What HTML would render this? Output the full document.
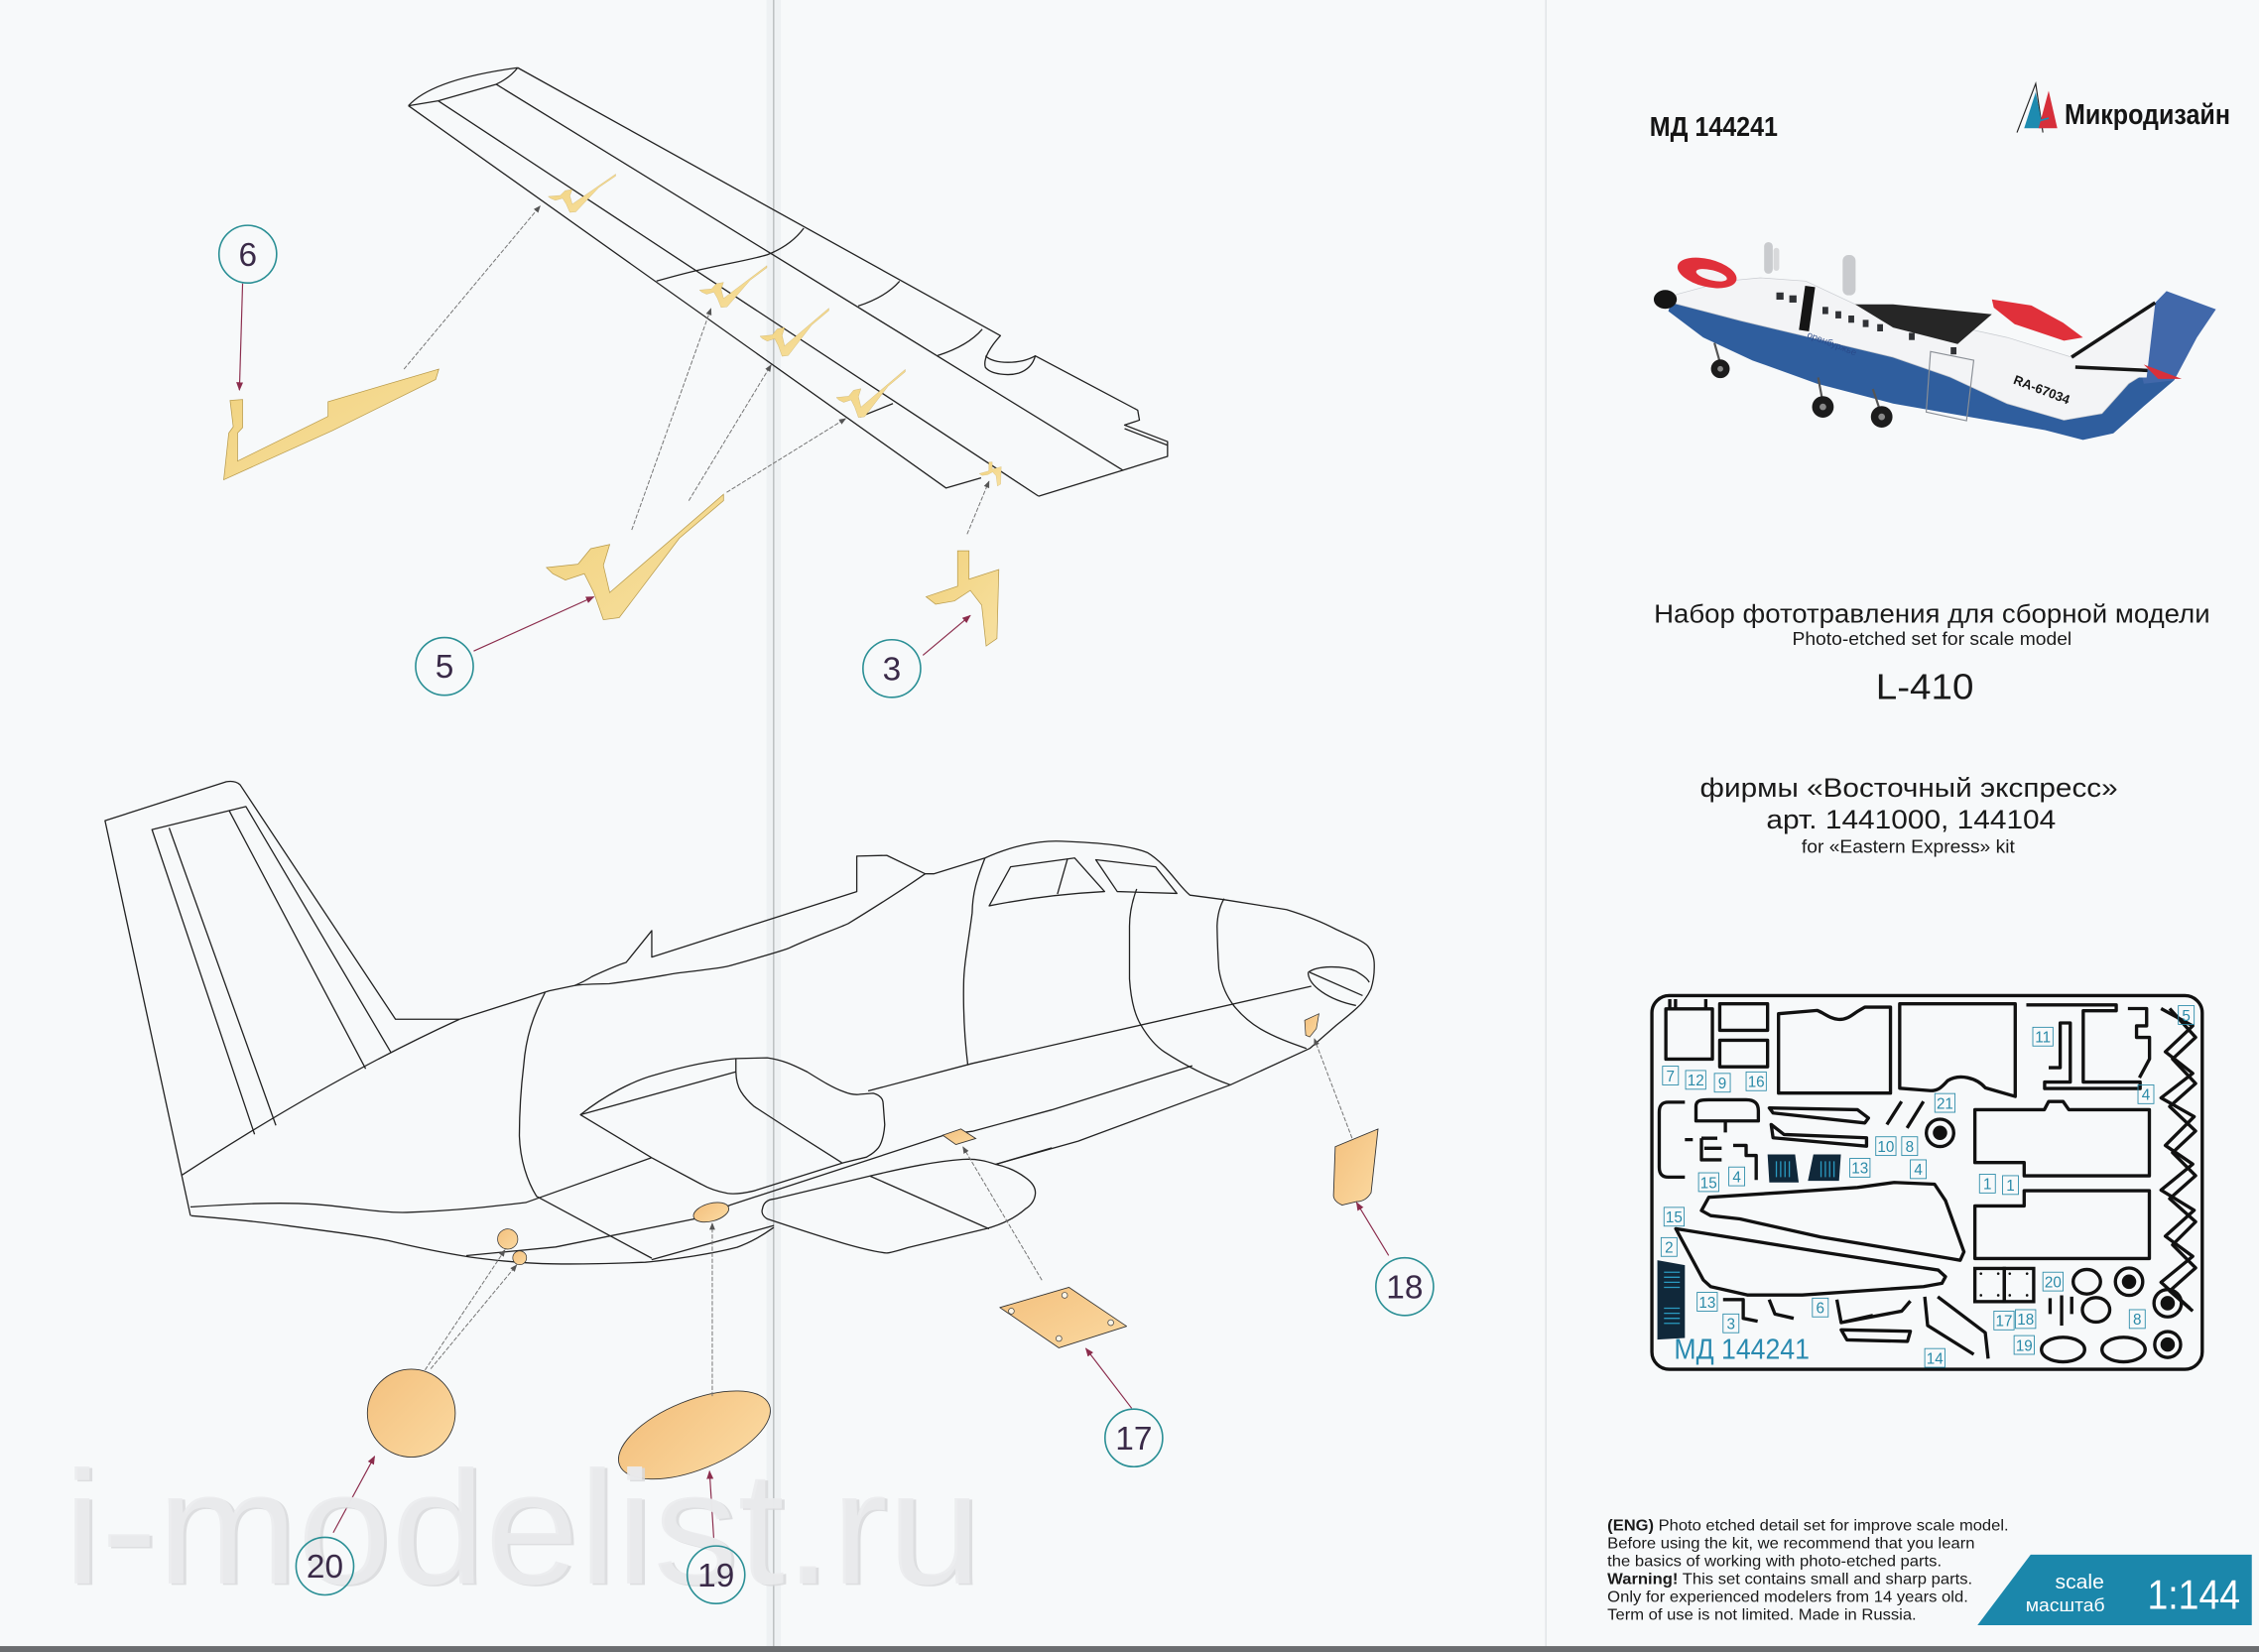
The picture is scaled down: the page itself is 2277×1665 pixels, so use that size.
<!DOCTYPE html>
<html><head><meta charset="utf-8"><style>
html,body{margin:0;padding:0;background:#f7f9fa;}
svg{display:block;}
text{font-family:"Liberation Sans",sans-serif;}
</style></head><body>
<svg width="2277" height="1665" viewBox="0 0 1568 1146.6" preserveAspectRatio="none" xmlns="http://www.w3.org/2000/svg">
<defs>
<marker id="ar" viewBox="0 0 10 10" refX="9" refY="5" markerWidth="6" markerHeight="6" orient="auto" markerUnits="userSpaceOnUse"><path d="M0,1 L10,5 L0,9 z" fill="#8b2c4c"/></marker>
<marker id="ag" viewBox="0 0 10 10" refX="9" refY="5" markerWidth="5" markerHeight="5" orient="auto" markerUnits="userSpaceOnUse"><path d="M0,1 L10,5 L0,9 z" fill="#555"/></marker>
<linearGradient id="gold" x1="0" y1="0" x2="1" y2="1"><stop offset="0" stop-color="#f1d27e"/><stop offset="1" stop-color="#f7e0a0"/></linearGradient>
<linearGradient id="org" x1="0" y1="0" x2="1" y2="1"><stop offset="0" stop-color="#f3c07e"/><stop offset="1" stop-color="#fbd9a0"/></linearGradient>
<symbol id="v5" viewBox="378 342 126 90" preserveAspectRatio="none"><path d="M379.3,393.9 L401.2,391.6 L410,380.8 L423.2,377.9 L418.8,392.4 L423.2,411.3 L502.2,343.1 L502.2,347.5 L471.5,373.6 L429.8,428.7 L418.8,430.1 L412.2,411.3 L405.6,398.2 L392.4,402.6 L383.7,398.2 Z" fill="url(#gold)" stroke="#b89a4a" stroke-width="0.5"/></symbol>
<symbol id="p3" viewBox="642 381 53 69" preserveAspectRatio="none"><path d="M664.7,382.3 L672.6,382.3 L672.6,402 L693.3,395.3 L692,443.2 L684.5,448.4 L681.4,420 L673.5,409.8 L662.5,417.1 L649.4,419.4 L642.8,414.2 L664.7,406.9 Z" fill="url(#gold)" stroke="#b89a4a" stroke-width="0.5"/></symbol>
</defs>

<rect x="0" y="0" width="1568" height="1147" fill="#f7f9fa"/>
<!-- fold lines -->
<rect x="532" y="0" width="10" height="1147" fill="#eef1f3"/>
<line x1="537" y1="0" x2="537" y2="1147" stroke="#b5b8ba" stroke-width="0.9"/>
<line x1="1073" y1="0" x2="1073" y2="1147" stroke="#dcdfe1" stroke-width="0.8"/>
<rect x="0" y="1142.5" width="1568" height="4.2" fill="#6b6d70"/>

<!-- ================= WING ================= -->
<g fill="none" stroke="#222" stroke-width="0.9" stroke-linejoin="round">
<path d="M283.5,73.4 Q300,55 359.3,47"/>
<path d="M283.5,73.4 L304.2,70 L344.4,58.5 Q354,54 359.3,47"/>
<path d="M359.3,47 L694.4,233 C688,240 682,249 684,255 C688,260 700,261 707,259 C713,257 717,253 718.6,247 L789.7,284.7 L790.9,291.6 L780.6,295 L810.4,306.5 L810.4,316.8 L720.9,344.4"/>
<path d="M780.6,297.5 L810.4,309"/>
<path d="M684,247 C690,253 708,253 718.6,247"/>
<path d="M344.4,58.5 L779.4,326.4"/>
<path d="M304.2,70 L720.9,344.4"/>
<path d="M283.5,73.4 L656.6,338.7 L681,331.7"/>
<path d="M455.7,195.1 C470,191 482,188 491.3,186 C510,182 522,180 532.6,176.8 C545,172 553,165 557.9,158.4"/>
<path d="M595.7,212.4 Q615,206 624.4,195.2"/>
<path d="M650.8,246.8 Q672,240 681.8,228.5"/>
<path d="M596.9,289.3 L619.8,280.1"/>
</g>
<!-- small wing parts -->
<use href="#v5" x="380" y="120.5" width="48" height="27.5"/>
<use href="#v5" x="485" y="184" width="48" height="30"/>
<use href="#v5" x="527" y="213.5" width="49" height="34.5"/>
<use href="#v5" x="580" y="256" width="49" height="34.5"/>
<use href="#p3" x="679.5" y="320.3" width="16" height="17.5"/>
<!-- big wing parts -->
<path d="M155.3,333 L158.8,300.5 L161.9,296.2 L159.7,277.9 L168.4,277.3 L168.4,296.8 L164.9,300.5 L164.9,320 L227.7,289 L227.7,278.8 L304.6,256.2 L302.4,263.4 L230.8,298.8 Z" fill="url(#gold)" stroke="#b89a4a" stroke-width="0.5"/>
<use href="#v5" x="378" y="342" width="126" height="90"/>
<use href="#p3" x="642" y="381" width="53" height="69"/>
<!-- gray leaders wing -->
<g stroke="#777" stroke-width="0.7" stroke-dasharray="3 1.2" fill="none" marker-end="url(#ag)">
<line x1="280.4" y1="256.2" x2="374.9" y2="143"/>
<line x1="438.5" y1="367.8" x2="493.5" y2="214.1"/>
<line x1="478.1" y1="347.5" x2="535.2" y2="253.3"/>
<line x1="504.4" y1="341.7" x2="587" y2="290.5"/>
<line x1="671.3" y1="370.7" x2="686.5" y2="334"/>
</g>
<!-- red arrows wing -->
<g stroke="#8b2c4c" stroke-width="0.8" fill="none" marker-end="url(#ar)">
<line x1="168.4" y1="196.8" x2="166.2" y2="270.7"/>
<line x1="328.8" y1="451.9" x2="412.2" y2="414.2"/>
<line x1="640.6" y1="454.8" x2="673.5" y2="427.2"/>
</g>

<!-- ================= FUSELAGE ================= -->
<g fill="none" stroke="#222" stroke-width="0.9" stroke-linejoin="round">
<path d="M132.2,843.8 L72.9,569.6 L157.1,542.6 Q163,541.5 166.6,544.6 L274.5,707.4 L319,707.4"/>
<path d="M176.7,787.3 L105.5,575.8 L170.7,559.8 L271.5,730.7"/>
<path d="M117.4,574.6 L191.5,781.1"/>
<path d="M158.9,562.3 L253.8,741.8"/>
<path d="M319,707.4 Q230,748 126.3,815.6"/>
<path d="M319,707.4 L381.2,687.7 L399,684 Q406,681 410.9,677.8 Q428,670 434.6,668 L452.4,645.9 L452.4,664.3 L594.7,618.8 L594.7,594.2 L615.5,593.7 L642.2,606.5 L648.1,606.5 L683.7,595.5"/>
<path d="M399,684 Q405,683 422.8,682.8 C445,680 460,677 470.2,675.4 C490,673 500,672 505.8,670.5 C525,665 540,661 547.3,658.2 C565,650 580,645 588.8,641 C610,628 630,615 642.2,606.5"/>
<path d="M683.7,595.5 C700,588 720,583 737.1,583.9 C765,585 785,587 796.4,591.8 C810,600 818,615 826,621.3 L849.4,624.4 L893,631.3 C905,635 918,640 927.5,645.1 C938,650 946,653 949.3,656.5 C953,661 954,666 953.9,670.3 C954,676 953,682 951.6,686.4 C949,692 945,697 941.2,700.2 C936,705 932,708 927.5,711.6 L909.1,727.7 L854,753 L748.4,792 L691.1,808.1"/>
<path d="M686.6,628.7 L701.5,601.6 L745.9,595.5 L766.7,618.8 Q725,621 686.6,628.7 Z"/>
<path d="M741,596 L734,620.5"/>
<path d="M760.6,596.7 L802.1,601.6 L816.9,620.1 L775.5,618.8 Z"/>
<path d="M908,675 C914,670 932,670 941,674 C946,677 949,679 950.4,681.8"/>
<path d="M908,675 C908,684 922,694 941.2,697.9"/>
<path d="M909.1,674.9 L945.8,691"/>
<path d="M683.7,595.5 C678,610 675,620 674.8,633.6 C672,655 669,670 668.9,682.8 C668.5,705 670,725 671.8,739.3"/>
<path d="M789,617 C786,625 784,633 784,642.8 L784,679.5 C785,695 788,705 792,711.6 C797,720 802,726 808.1,730 C825,741 840,748 854,753"/>
<path d="M849.7,623.7 C846,630 845,636 844.8,642.8 C845,655 845.5,665 846,672.6 C848,685 852,692 856.3,697.9 C862,705 868,710 874.7,714 C885,720 896,724 906.8,727.7"/>
<path d="M378.3,688.9 C370,705 365,720 363.5,739.3 C361,760 360.5,775 360.5,788.5 C361,805 366,820 372.4,830.3 L452.4,873.3"/>
<path d="M602.6,757.2 L674.9,738.1 L910.2,684.5"/>
<path d="M323.7,871.5 L385.7,865.5 L482.1,846 L507.4,836.2 L656.6,787.5 L675,785.2 L730.1,770.3 L827.6,739.7"/>
<path d="M132.2,837.7 C160,836 190,834 218.6,835.8 C245,838 265,842 282.3,841.5 C320,840 345,837 365.1,834.6 L452.3,803.5"/>
<path d="M132.6,843.8 C160,846 180,848 199.5,850.7 C230,855 250,857 269.6,861.1 C290,866 310,870 326.9,872.6 C345,875 365,877 384.2,877.2 C405,877.5 425,877 447.9,876.1 C470,874 495,870 511.6,865.7 C522,862 530,857 537.1,851.9"/>
<path d="M452.3,874.3 L537.2,850.6"/>
<path d="M402.9,773.7 C420,760 440,750 454.6,746.1 C475,740 495,736 510.8,734.7 L532.6,734.2 C545,736 552,740 560.2,743.9 C570,750 578,755 585.4,757.6 C590,759.5 594,760 597,759.5 L606.1,758.8 C611,760 613,763 613,766 L614.1,780.6 C613.5,790 611,795 609.6,796.7 C606,801 603,802 601.5,803.1 L585.4,807 L523.5,826.5 C515,828.5 510,829 505.1,828.3 C498,827 492,825 486.7,821.9 L452.3,803.5 Z"/>
<path d="M402.9,773.7 L510.8,743.9"/>
<path d="M510.8,734.7 L510.8,743.9 C511,750 512,754 514.3,757.6 C517,762 520,765 523.5,768 L546.4,782.9 L584.3,807"/>
<path d="M529.2,839.1 C530,834 534,832.5 537.2,832.2 L603.8,816.2 C630,810 650,806 668.1,804.7 C678,804 685,806 691.1,808.1 C700,810 706,813 711.7,817.3 C717,821 719,825 718.6,828.8 C718,834 715,837 711.7,839.1 C705,845 695,850 684.2,852.9 L630,866 C622,868.5 618,869.7 615.3,869.7 C600,868 575,860 546.4,850.6 L532.6,846 C529,844 528.5,841 529.2,839.1 Z"/>
<path d="M603.8,816.2 L686.5,852.9"/>
<path d="M691.1,808.1 L730.1,796.7"/>
</g>
<ellipse cx="493.6" cy="841.4" rx="12.6" ry="6.2" transform="rotate(-15 493.6 841.4)" fill="url(#org)" stroke="#333" stroke-width="0.6"/>
<path d="M654.3,787.9 L667,783.6 L677.3,790.2 L663.5,794.4 Z" fill="url(#org)" stroke="#333" stroke-width="0.6"/>
<path d="M905.6,708.2 L915.5,703.6 L913.7,713.9 L909.1,719.7 L906.3,718.5 Z" fill="url(#org)" stroke="#333" stroke-width="0.5"/>
<circle cx="352.4" cy="860" r="7" fill="url(#org)" stroke="#333" stroke-width="0.5"/>
<circle cx="360.7" cy="873" r="4.8" fill="url(#org)" stroke="#333" stroke-width="0.5"/>
<circle cx="285.5" cy="980.8" r="30.5" fill="url(#org)" stroke="#333" stroke-width="0.6"/>
<ellipse cx="482" cy="996" rx="56" ry="24" transform="rotate(-22 482 996)" fill="url(#org)" stroke="#333" stroke-width="0.6"/>
<path d="M694,907.5 L742,893.5 L782,920.5 L735,935.5 Z" fill="url(#org)" stroke="#333" stroke-width="0.6" stroke-linejoin="round"/>
<g fill="#fdf5e6" stroke="#444" stroke-width="0.5"><circle cx="702" cy="910" r="2"/><circle cx="739" cy="899" r="2"/><circle cx="771" cy="918" r="2"/><circle cx="735" cy="929" r="2"/></g>
<path d="M926.8,795.9 L956.5,783.6 L951.7,827.8 Q948,834 941.6,834 L931.6,836.4 Q926,834 925.6,830 Z" fill="url(#org)" stroke="#333" stroke-width="0.6"/>
<g stroke="#777" stroke-width="0.7" stroke-dasharray="3 1.2" fill="none" marker-end="url(#ag)">
<line x1="295" y1="950.9" x2="350.5" y2="867.5"/>
<line x1="299" y1="950" x2="358.6" y2="878"/>
<line x1="494.4" y1="969" x2="494.4" y2="849"/>
<line x1="723.2" y1="888.5" x2="668.4" y2="796"/>
<line x1="938.5" y1="790" x2="912.3" y2="721"/>
</g>
<g stroke="#8b2c4c" stroke-width="0.8" fill="none" marker-end="url(#ar)">
<line x1="231.3" y1="1063.8" x2="260" y2="1010.8"/>
<line x1="495.7" y1="1071.8" x2="492.5" y2="1021.1"/>
<line x1="785.5" y1="977.4" x2="753.7" y2="935.9"/>
<line x1="963.9" y1="871.4" x2="941.6" y2="834.6"/>
</g>

<!-- watermark -->
<text x="46" y="1100" font-size="112" textLength="637" lengthAdjust="spacingAndGlyphs" fill="#d9dadc" opacity="0.85" font-family="Liberation Sans Narrow, Liberation Sans, sans-serif">i-modelist.ru</text>
<text x="44" y="1099" font-size="112" textLength="637" lengthAdjust="spacingAndGlyphs" fill="#ebecee" opacity="0.9" font-family="Liberation Sans Narrow, Liberation Sans, sans-serif">i-modelist.ru</text>

<g fill="none" stroke="#2a8f95" stroke-width="1.1">
<circle cx="172" cy="176.4" r="20"/><circle cx="308.5" cy="462.5" r="20"/><circle cx="619" cy="464" r="20"/>
<circle cx="975" cy="893" r="20"/><circle cx="787" cy="998" r="20"/><circle cx="225.5" cy="1087" r="20"/><circle cx="497" cy="1093" r="20"/>
</g>
<g font-size="23" fill="#3a2a48" text-anchor="middle">
<text x="172" y="184.5">6</text><text x="308.5" y="470.5">5</text><text x="619" y="472">3</text>
<text x="975" y="901">18</text><text x="787" y="1006">17</text><text x="225.5" y="1095">20</text><text x="497" y="1101">19</text>
</g>

<!-- ================= RIGHT PANEL ================= -->
<text x="1145" y="94.5" font-size="19" font-weight="bold" textLength="89" lengthAdjust="spacingAndGlyphs" fill="#151515" font-family="Liberation Serif, serif">МД 144241</text>
<path d="M1400,92 L1413,58 L1418,92" fill="none" stroke="#222" stroke-width="0.8"/>
<path d="M1405,89 L1413,64 L1418,89 Z" fill="#1d8bb0"/>
<path d="M1415,89 L1422,63 L1428,89 Z" fill="#d62f3a"/>
<path d="M1408,86 L1422,82" stroke="#1d8bb0" stroke-width="1.2"/>
<text x="1433" y="86" font-size="20" font-weight="bold" textLength="115" lengthAdjust="spacingAndGlyphs" fill="#151515" font-family="Liberation Serif, serif">Микродизайн</text>

<g>
<rect x="1224.5" y="168" width="6" height="22" rx="3" fill="#c9cbce"/>
<rect x="1231" y="172" width="4" height="16" rx="2" fill="#d8d9db"/>
<rect x="1279" y="177" width="9" height="28" rx="4" fill="#c9cbce"/>
<path d="M1160,210 L1208.6,222.7 L1261.3,235.3 L1314,247.9 L1353.6,261.7 L1393.1,280.1 L1432.6,291.6 L1459,287 L1477.5,266.3 L1495.9,254.8 L1509,264 L1488,282 L1466.9,300.8 L1445.8,305.3 L1419.5,298.5 L1366.7,289.3 L1314,280.1 L1261.3,266.3 L1216.5,250.2 L1182.2,234.2 L1158,216 Z" fill="#2f5e9e"/>
<path d="M1163.8,204.3 L1198,195.1 L1221.8,192.8 L1253.4,195.1 L1287.7,211.2 L1340.4,222.7 L1393.1,234.2 L1437.9,247.9 L1485.4,254.8 L1495.9,254.8 L1477.5,266.3 L1459,287 L1432.6,291.6 L1393.1,280.1 L1353.6,261.7 L1314,247.9 L1261.3,235.3 L1208.6,222.7 L1160,210 Z" fill="#f3f4f6" stroke="#c8cbd0" stroke-width="0.5"/>
<path d="M1495.9,210.1 L1503.8,202 L1538.1,214.7 L1524.9,234.2 L1509.1,264 L1488,266.3 L1485.4,254.8 Z" fill="#4168aa"/>
<path d="M1440,248 L1496,210 L1490,262 L1462,262 Z" fill="#f3f4f6"/>
<line x1="1437.9" y1="247.9" x2="1495.9" y2="210.1" stroke="#151515" stroke-width="2.4"/>
<line x1="1440.5" y1="254.8" x2="1490.6" y2="257.1" stroke="#151515" stroke-width="2.4"/>
<path d="M1488,253 L1514.4,263 L1498,263 Z" fill="#d8303a"/>
<ellipse cx="1184.9" cy="189.4" rx="21" ry="9.6" transform="rotate(14 1184.9 189.4)" fill="#e0303a"/>
<ellipse cx="1188" cy="191" rx="11" ry="3.5" transform="rotate(14 1188 191)" fill="#f3f4f6"/>
<path d="M1287.7,211.2 L1314,211.2 L1382.6,218.1 L1358.8,238.8 L1314,227.3 Z" fill="#262626"/>
<path d="M1382.6,207.8 L1410,212 L1432,224 L1445.8,234.2 L1432.6,236.5 L1398.4,225 L1383.9,213.5 Z" fill="#e0303a"/>
<ellipse cx="1155.9" cy="207.8" rx="8" ry="6.5" fill="#151515"/>
<rect x="1250.8" y="198.6" width="7" height="31" fill="#151515" transform="rotate(8 1254 214)"/>
<g fill="#303236"><rect x="1233" y="203" width="5" height="5"/><rect x="1242" y="205" width="5" height="5"/><rect x="1265" y="213" width="4" height="5"/><rect x="1274" y="216" width="4" height="5"/><rect x="1283" y="219" width="4" height="5"/><rect x="1293" y="222" width="4" height="5"/><rect x="1303" y="225" width="4" height="5"/><rect x="1325" y="231" width="4" height="5"/><rect x="1354" y="241" width="4" height="5"/></g>
<path d="M1340,244 L1370,250 L1365,292 L1337,286 Z" fill="none" stroke="#8a8f96" stroke-width="0.8"/>
<g stroke="#555" stroke-width="1.5"><line x1="1190" y1="238" x2="1194" y2="252"/><line x1="1262" y1="262" x2="1265" y2="278"/><line x1="1300" y1="270" x2="1305" y2="285"/></g>
<g fill="#1c1c1c"><circle cx="1194.1" cy="256" r="6.5"/><circle cx="1265.3" cy="282.4" r="7.5"/><circle cx="1306.1" cy="289.3" r="7.5"/></g>
<g fill="#888"><circle cx="1194.1" cy="256" r="2"/><circle cx="1265.3" cy="282.4" r="2.3"/><circle cx="1306.1" cy="289.3" r="2.3"/></g>
<text x="1397" y="266" font-size="9" font-weight="bold" fill="#151515" transform="rotate(21 1397 266)">RA-67034</text>
<text x="1254" y="234" font-size="6.5" fill="#2a4a8a" transform="rotate(21 1254 234)">оренбуржье</text>
</g>

<g fill="#1a1a1a">
<text x="1148" y="432" font-size="18" textLength="386" lengthAdjust="spacingAndGlyphs">Набор фототравления для сборной модели</text>
<text x="1244" y="447.5" font-size="12.5" textLength="194" lengthAdjust="spacingAndGlyphs">Photo-etched set for scale model</text>
<text x="1302" y="485" font-size="25" textLength="68" lengthAdjust="spacingAndGlyphs">L-410</text>
<text x="1180" y="553" font-size="18.5" textLength="290" lengthAdjust="spacingAndGlyphs">фирмы «Восточный экспресс»</text>
<text x="1226" y="575" font-size="18.5" textLength="201" lengthAdjust="spacingAndGlyphs">арт. 1441000, 144104</text>
<text x="1250.5" y="592" font-size="12.5" textLength="148" lengthAdjust="spacingAndGlyphs">for «Eastern Express» kit</text>
</g>

<!-- ================= FRET ================= -->
<g fill="none" stroke="#111" stroke-width="2.3" stroke-linejoin="round">
<rect x="1146.6" y="691" width="382" height="259.4" rx="12"/>
<rect x="1156.3" y="700.2" width="32.3" height="34.9"/>
<path d="M1159,693.5 L1159,700 M1163,693.5 L1163,700 M1184,693.5 L1184,700"/>
<rect x="1193.7" y="696.7" width="33.2" height="18.4"/>
<rect x="1193.7" y="722" width="33.2" height="18.4"/>
<path d="M1234.5,703.6 L1261.3,701.3 C1266,703 1270,707 1276,707.5 C1283,708 1287,703 1290.5,701.3 L1294.4,699 L1312.2,699 L1312.2,758.7 L1234.5,758.7 Z"/>
<path d="M1318.6,696.7 L1398.8,696.7 L1398.8,761 L1378,755 C1372,748 1360,745 1352,750 C1348,754 1346,757 1340,757 L1318.6,755.3 Z"/>
<path d="M1406.5,697.5 L1468.9,697.5 L1468.9,701.5 L1446,701.5 L1446,751 L1485.5,751 L1485.5,755.5 L1419.2,755.5 L1419.2,751 L1437,751 L1437,710 L1430,710 L1430,741 L1422,741"/>
<path d="M1477,700 L1490,700 L1490,712 L1483,712 L1483,720 L1492,720 L1492,735 L1485,748"/>
<path d="M1500,700 L1522,712 L1503,730 L1522,745 L1500,762 L1523,775 L1503,795 L1522,808 L1500,826 L1523,840 L1503,858 L1522,872 L1500,890 L1520,908"/>
<path d="M1506,700 L1524,720 L1508,735 L1524,752 L1506,768 L1524,785 L1508,800 L1524,816 L1506,832 L1524,848 L1508,864 L1524,880 L1506,896 L1522,910"/>
<path d="M1169.5,765 L1158,765 C1153,765 1151.7,768 1151.7,772 L1151.7,810 C1151.7,815 1154,817 1158,817 L1169.5,817 M1169.5,791 L1175,791"/>
<path d="M1177.2,778 L1177.2,768 C1177.2,764 1180,763.3 1186,763.3 L1212,763.3 C1218,763.3 1220.5,766 1220.5,771 L1220.5,778 Z M1197.6,778 L1197.6,786"/>
<path d="M1228.1,769 L1289.3,770.2 L1296.9,776 L1294.4,779.4 L1230.7,772.5 Z"/>
<path d="M1229.4,780.5 L1238.3,787.4 L1295.6,789.7 L1295.6,795.5 L1230.7,789.7 Z"/>
<path d="M1309.7,780.5 L1319.9,764.5 M1323.7,782.9 L1335.1,764.5"/>
<circle cx="1346.6" cy="786.3" r="9.5"/>
<path d="M1181,790 L1192,790 M1181,790 L1181,805 L1195,805 M1183,797 L1195,797"/>
<path d="M1203,795 L1212,795 L1212,802 L1219,802 L1219,819"/>
<path d="M1370.8,770.2 L1419,770.2 L1422,764.5 L1432,764.5 L1436,770.2 L1491.9,770.2 L1491.9,816.1 L1405,816.1 L1405,806.9 L1370.8,806.9 Z"/>
<path d="M1370.8,837 L1405,837 L1405,826.4 L1491.9,826.4 L1491.9,873.5 L1370.8,873.5 Z"/>
<path d="M1181,840.2 L1186.1,831 L1238.3,827.6 L1289.3,824.2 L1314.8,820.7 L1342.8,821.9 L1350.4,833.3 L1363.2,868.9 L1360.6,874.7 L1340.2,871.2 L1263.8,858.6 L1207.7,846 L1187.4,843.7 Z"/>
<path d="M1163.2,852.8 L1263.8,868.9 L1345.3,881.5 L1350.4,886.1 L1347.9,890.7 L1335.1,893 L1251,898.8 L1212.8,898.8 L1187.4,893 L1182.3,888.4 Z"/>
<path d="M1275,902 L1278,918 L1320,910 L1326,903 M1278,918 L1300,913"/>
<path d="M1278,923 L1326,924 L1324,931 L1282,930 Z"/>
<path d="M1336,900 L1338,920 L1370,940 M1345,900 L1378,925 L1380,943"/>
<path d="M1196,902 L1210,902 L1210,915 L1220,917 M1228,902 L1232,912 L1245,915"/>
<path d="M1423,901 L1423,912 M1431,899 L1431,920 M1438,900 L1438,912"/>
<ellipse cx="1448.5" cy="889.6" rx="9.5" ry="8.5"/>
<ellipse cx="1454.9" cy="909.1" rx="9.5" ry="8.5"/>
<ellipse cx="1432" cy="936.7" rx="15" ry="8.5"/>
<ellipse cx="1474" cy="936.7" rx="15" ry="8.5"/>
<circle cx="1477.8" cy="889.6" r="9.5"/>
<circle cx="1504.6" cy="904.5" r="9.5"/>
<circle cx="1504.6" cy="933.2" r="9"/>
</g>
<g fill="#111"><circle cx="1346.6" cy="786.3" r="5"/><circle cx="1477.8" cy="889.6" r="5"/><circle cx="1504.6" cy="904.5" r="5"/><circle cx="1504.6" cy="933.2" r="5"/></g>
<rect x="1370.8" y="880.4" width="20.4" height="23" fill="none" stroke="#111" stroke-width="2.3"/>
<rect x="1391.2" y="880.4" width="20.4" height="23" fill="none" stroke="#111" stroke-width="2.3"/>
<g fill="#111"><circle cx="1375" cy="884" r="0.9"/><circle cx="1387" cy="884" r="0.9"/><circle cx="1375" cy="899" r="0.9"/><circle cx="1387" cy="899" r="0.9"/><circle cx="1395" cy="884" r="0.9"/><circle cx="1407" cy="884" r="0.9"/><circle cx="1395" cy="899" r="0.9"/><circle cx="1407" cy="899" r="0.9"/></g>
<path d="M1226.9,801.2 L1246,801.2 L1248.5,820.7 L1228.1,820.7 Z" fill="#10283a"/>
<path d="M1258.7,801.2 L1277.8,801.2 L1276.5,819.6 L1254.9,819.6 Z" fill="#10283a"/>
<g stroke="#2a9ac0" stroke-width="0.9"><path d="M1233,806 V817 M1236,806 V817 M1239,806 V817 M1242,806 V817 M1264,806 V817 M1267,806 V817 M1270,806 V817 M1273,806 V817"/></g>
<path d="M1150.4,874.7 L1169.5,878.1 L1169.5,928.6 L1150.4,929.8 Z" fill="#10283a"/>
<g stroke="#2a9ac0" stroke-width="0.9"><path d="M1155,883 H1166 M1155,886.5 H1166 M1155,890 H1166 M1155,893.5 H1166 M1155,908 H1166 M1155,911.5 H1166 M1155,915 H1166 M1155,918.5 H1166"/></g>
<text x="1162" y="943" font-size="20" textLength="94" lengthAdjust="spacingAndGlyphs" fill="#2a8ab0" font-family="Liberation Serif, serif">МД 144241</text>
<g fill="none" stroke="#2a8aa8" stroke-width="0.6">
<rect x="1154" y="740" width="11" height="13"/><rect x="1170" y="743" width="14" height="13"/><rect x="1190" y="745" width="11" height="13"/><rect x="1212" y="744" width="14" height="13"/>
<rect x="1411" y="713" width="14" height="13"/><rect x="1512" y="698" width="11" height="13"/><rect x="1484" y="753" width="11" height="13"/><rect x="1343" y="759" width="14" height="13"/>
<rect x="1302" y="789" width="14" height="13"/><rect x="1320" y="789" width="11" height="13"/><rect x="1284" y="804" width="14" height="13"/><rect x="1326" y="805" width="11" height="13"/>
<rect x="1374" y="815" width="11" height="13"/><rect x="1390" y="816" width="11" height="13"/><rect x="1179" y="814" width="14" height="13"/><rect x="1200" y="810" width="11" height="13"/>
<rect x="1155" y="838" width="14" height="13"/><rect x="1153" y="859" width="11" height="13"/><rect x="1178" y="897" width="14" height="13"/><rect x="1196" y="912" width="11" height="13"/>
<rect x="1258" y="901" width="11" height="13"/><rect x="1336" y="936" width="14" height="13"/><rect x="1384" y="910" width="14" height="13"/><rect x="1399" y="909" width="14" height="13"/>
<rect x="1418" y="883" width="14" height="13"/><rect x="1398" y="927" width="14" height="13"/><rect x="1478" y="909" width="11" height="13"/>
</g>
<g font-size="10.5" fill="#2a8aa8" text-anchor="middle">
<text x="1159.5" y="750.5">7</text><text x="1177" y="753.5">12</text><text x="1195.5" y="755.5">9</text><text x="1219" y="754.5">16</text>
<text x="1418" y="723.5">11</text><text x="1517.5" y="708.5">5</text><text x="1489.5" y="763.5">4</text><text x="1350" y="769.5">21</text>
<text x="1309" y="799.5">10</text><text x="1325.5" y="799.5">8</text><text x="1291" y="814.5">13</text><text x="1331.5" y="815.5">4</text>
<text x="1379.5" y="825.5">1</text><text x="1395.5" y="826.5">1</text><text x="1186" y="824.5">15</text><text x="1205.5" y="820.5">4</text>
<text x="1162" y="848.5">15</text><text x="1158.5" y="869.5">2</text><text x="1185" y="907.5">13</text><text x="1201.5" y="922.5">3</text>
<text x="1263.5" y="911.5">6</text><text x="1343" y="946.5">14</text><text x="1391" y="920.5">17</text><text x="1406" y="919.5">18</text>
<text x="1425" y="893.5">20</text><text x="1405" y="937.5">19</text><text x="1483.5" y="919.5">8</text>
</g>

<g font-size="11" fill="#1a1a1a">
<text x="1115.7" y="1062.2" textLength="278.5" lengthAdjust="spacingAndGlyphs"><tspan font-weight="bold">(ENG)</tspan> Photo etched detail set for improve scale model.</text>
<text x="1115.7" y="1074.6" textLength="255" lengthAdjust="spacingAndGlyphs">Before using the kit, we recommend that you learn</text>
<text x="1115.7" y="1087" textLength="232" lengthAdjust="spacingAndGlyphs">the basics of working with photo-etched parts.</text>
<text x="1115.7" y="1099.4" textLength="253.4" lengthAdjust="spacingAndGlyphs"><tspan font-weight="bold">Warning!</tspan> This set contains small and sharp parts.</text>
<text x="1115.7" y="1111.8" textLength="250.4" lengthAdjust="spacingAndGlyphs">Only for experienced modelers from 14 years old.</text>
<text x="1115.7" y="1124.2" textLength="214.5" lengthAdjust="spacingAndGlyphs">Term of use is not limited. Made in Russia.</text>
</g>
<path d="M1409.5,1079 L1563,1079 L1563,1128 L1372.6,1128 Z" fill="#1b87ab"/>
<g fill="#ffffff">
<text x="1426.5" y="1102.5" font-size="14" textLength="34" lengthAdjust="spacingAndGlyphs">scale</text>
<text x="1406" y="1118.5" font-size="13" textLength="55" lengthAdjust="spacingAndGlyphs">масштаб</text>
<text x="1490.5" y="1116.5" font-size="29" textLength="64.5" lengthAdjust="spacingAndGlyphs">1:144</text>
</g>
</svg>
</body></html>
